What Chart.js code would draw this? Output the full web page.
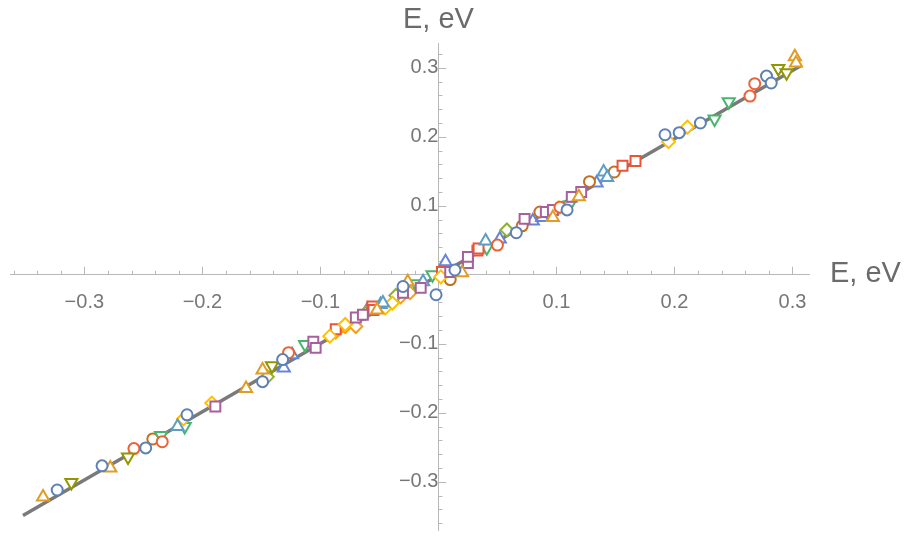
<!DOCTYPE html>
<html>
<head>
<meta charset="utf-8">
<script src="https://cdn.jsdelivr.net/npm/chart.js@4/dist/chart.umd.min.js"></script>
<style>
  html, body { margin: 0; padding: 0; background: #fff; }
  #wrap { width: 909px; height: 544px; }
</style>
</head>
<body>
<div id="wrap"><canvas id="chartEnergy"></canvas></div>
<script>
// tick labels (0 is left out, like the original)
var xTicks = [-0.3, -0.2, -0.1, 0.1, 0.2, 0.3];
var yTicks = [-0.3, -0.2, -0.1, 0.1, 0.2, 0.3];

// fitted line E = E
var fitLine = [[-0.352, -0.349], [0.307, 0.303]];

// measured points, one array per marker series
var blueCircles = [[-0.323, -0.312], [-0.285, -0.277], [-0.248, -0.251], [-0.213, -0.203], [-0.149, -0.155],
    [-0.132, -0.123], [-0.030, -0.017], [-0.002, -0.029], [0.014, 0.007], [0.066, 0.061], [0.109, 0.094],
    [0.192, 0.203], [0.204, 0.206], [0.222, 0.220], [0.278, 0.288], [0.282, 0.278]];
var orangeTriangles = [[-0.335, -0.322], [-0.278, -0.280], [-0.163, -0.165], [-0.149, -0.138], [-0.052, -0.051],
    [-0.026, -0.010], [0.020, 0.003], [0.097, 0.083], [0.119, 0.113], [0.302, 0.316], [0.303, 0.307]];
var oliveTrianglesDown = [[-0.311, -0.301], [-0.263, -0.264], [-0.141, -0.132], [0.288, 0.299], [0.295, 0.293]];
var redCircles = [[-0.258, -0.252], [-0.234, -0.242], [-0.127, -0.113], [0.050, 0.043], [0.103, 0.098],
    [0.264, 0.259], [0.268, 0.277]];
var purpleSquares = [[-0.189, -0.191], [-0.106, -0.097], [-0.104, -0.106], [-0.070, -0.062], [-0.064, -0.058],
    [-0.030, -0.026], [-0.015, -0.019], [0.010, 0.004], [0.025, 0.017], [0.025, 0.026], [0.073, 0.081],
    [0.091, 0.091], [0.097, 0.094], [0.113, 0.113], [0.121, 0.120]];
var lightBlueTriangles = [[-0.221, -0.220], [-0.049, -0.043], [-0.047, -0.041], [-0.013, -0.010], [0.040, 0.049],
    [0.140, 0.149], [0.143, 0.141]];
var yellowDiamonds = [[-0.216, -0.209], [-0.192, -0.186], [-0.092, -0.089], [-0.079, -0.072], [-0.045, -0.048],
    [-0.039, -0.041], [0.002, -0.003], [0.102, 0.097], [0.195, 0.193], [0.211, 0.214]];
var redSquares = [[-0.087, -0.079], [-0.056, -0.046], [-0.055, -0.051], [0.003, 0.004], [0.033, 0.035],
    [0.034, 0.038], [0.156, 0.158], [0.167, 0.165]];
var greenTrianglesDown = [[-0.235, -0.233], [-0.215, -0.220], [-0.113, -0.101], [-0.019, -0.013], [-0.005, 0.000],
    [0.041, 0.039], [0.111, 0.101], [0.234, 0.226], [0.246, 0.251]];
var brownCircles = [[-0.242, -0.238], [0.010, -0.007], [0.071, 0.071], [0.086, 0.091], [0.128, 0.135], [0.149, 0.149]];
var greenDiamonds = [[-0.145, -0.148], [-0.062, -0.056], [-0.036, -0.030], [0.058, 0.065]];
var blueTriangles = [[-0.131, -0.135], [-0.124, -0.116], [-0.060, -0.050], [0.006, 0.019], [0.052, 0.052],
    [0.080, 0.078], [0.088, 0.083], [0.134, 0.133]];
var orangeDiamonds = [[-0.087, -0.083], [-0.079, -0.075], [-0.070, -0.075], [-0.032, -0.032], [-0.024, -0.026]];

function toXY(arr) {
    return arr.map(function (p) { return {x: p[0], y: p[1]}; });
}

function markers(data, color, style, radius, rotation) {
    return {
        type: 'scatter',
        data: toXY(data),
        borderColor: color,
        backgroundColor: '#ffffff',
        borderWidth: 2,
        pointStyle: style,
        pointRadius: radius,
        pointRotation: rotation || 0,
        order: 1
    };
}

function tickLabel(v) {
    var r = Math.round(v * 10) / 10;
    if (r === 0) return '';
    return r < 0 ? '\u2212' + (-r).toFixed(1) : r.toFixed(1);
}

// keep the axes from pushing the plot area in
function noPadding(s) {
    s.paddingTop = 0; s.paddingBottom = 0; s.paddingLeft = 0; s.paddingRight = 0;
}

var axisDecor = {
    id: 'axisDecor',
    beforeDatasetsDraw: function (chart) {
        var ctx = chart.ctx, xs = chart.scales.x, ys = chart.scales.y;
        var x0 = xs.getPixelForValue(0), y0 = ys.getPixelForValue(0);
        ctx.save();
        ctx.strokeStyle = '#b8b8b8';
        ctx.lineWidth = 1;
        ctx.beginPath();
        for (var i = -18; i <= 15; i++) {
            var px = Math.round(xs.getPixelForValue(i * 0.02)) + 0.5;
            var len = (i % 5 === 0) ? 8 : 4;
            ctx.moveTo(px, y0); ctx.lineTo(px, y0 - len);
        }
        for (var j = -18; j <= 16; j++) {
            var py = Math.round(ys.getPixelForValue(j * 0.02)) + 0.5;
            var len2 = (j % 5 === 0) ? 8 : 4;
            ctx.moveTo(x0, py); ctx.lineTo(x0 + len2, py);
        }
        ctx.stroke();
        ctx.fillStyle = '#6b6b6b';
        ctx.font = '29px "Liberation Sans", Arial, sans-serif';
        ctx.textAlign = 'center';
        ctx.textBaseline = 'alphabetic';
        ctx.fillText('E, eV', x0, ys.top - 15);
        ctx.textAlign = 'left';
        ctx.textBaseline = 'middle';
        ctx.fillText('E, eV', xs.right + 21, y0 - 1);
        ctx.restore();
    }
};

var ctx_e = document.getElementById('chartEnergy').getContext('2d');

new Chart(ctx_e, {
    data: {
        datasets: [
            {
                type: 'line',
                data: toXY(fitLine),
                borderColor: '#7a7a7a',
                borderWidth: 3.5,
                pointRadius: 0,
                fill: false,
                order: 10
            },
            markers(blueCircles, '#5E81B5', 'circle', 5.5),
            markers(orangeTriangles, '#E19C24', 'triangle', 7),
            markers(oliveTrianglesDown, '#929600', 'triangle', 7, 180),
            markers(redCircles, '#EB6235', 'circle', 5.5),
            markers(purpleSquares, '#A5609D', 'rect', 7),
            markers(lightBlueTriangles, '#5D9EC7', 'triangle', 7),
            markers(yellowDiamonds, '#FFBF00', 'rectRot', 6.5),
            markers(redSquares, '#E95536', 'rect', 7),
            markers(greenTrianglesDown, '#47B66D', 'triangle', 7, 180),
            markers(brownCircles, '#C56E1A', 'circle', 5.5),
            markers(greenDiamonds, '#8FB032', 'rectRot', 6.5),
            markers(blueTriangles, '#6685D9', 'triangle', 7),
            markers(orangeDiamonds, '#F89F13', 'rectRot', 6.5)
        ]
    },
    options: {
        responsive: true,
        maintainAspectRatio: false,
        animation: false,
        layout: {padding: {left: 10, right: 100, top: 43, bottom: 14}},
        plugins: {legend: {display: false}, tooltip: {enabled: false}},
        scales: {
            x: {
                type: 'linear',
                position: {y: 0},
                min: -0.363,
                max: 0.314,
                grid: {display: false},
                border: {display: true, color: '#b8b8b8', width: 1},
                afterBuildTicks: function (s) { s.ticks = xTicks.map(function (v) { return {value: v}; }); },
                afterFit: noPadding,
                ticks: {
                    autoSkip: false, maxRotation: 0, padding: 8, color: '#777777',
                    font: {family: '"Liberation Sans", Arial, sans-serif', size: 20},
                    callback: tickLabel
                }
            },
            y: {
                type: 'linear',
                position: {x: 0},
                min: -0.37,
                max: 0.336,
                grid: {display: false},
                border: {display: true, color: '#b8b8b8', width: 1},
                afterBuildTicks: function (s) { s.ticks = yTicks.map(function (v) { return {value: v}; }); },
                afterFit: noPadding,
                ticks: {
                    autoSkip: false, padding: 11, color: '#777777',
                    font: {family: '"Liberation Sans", Arial, sans-serif', size: 20},
                    callback: tickLabel
                }
            }
        }
    },
    plugins: [axisDecor]
});
</script>
</body>
</html>
